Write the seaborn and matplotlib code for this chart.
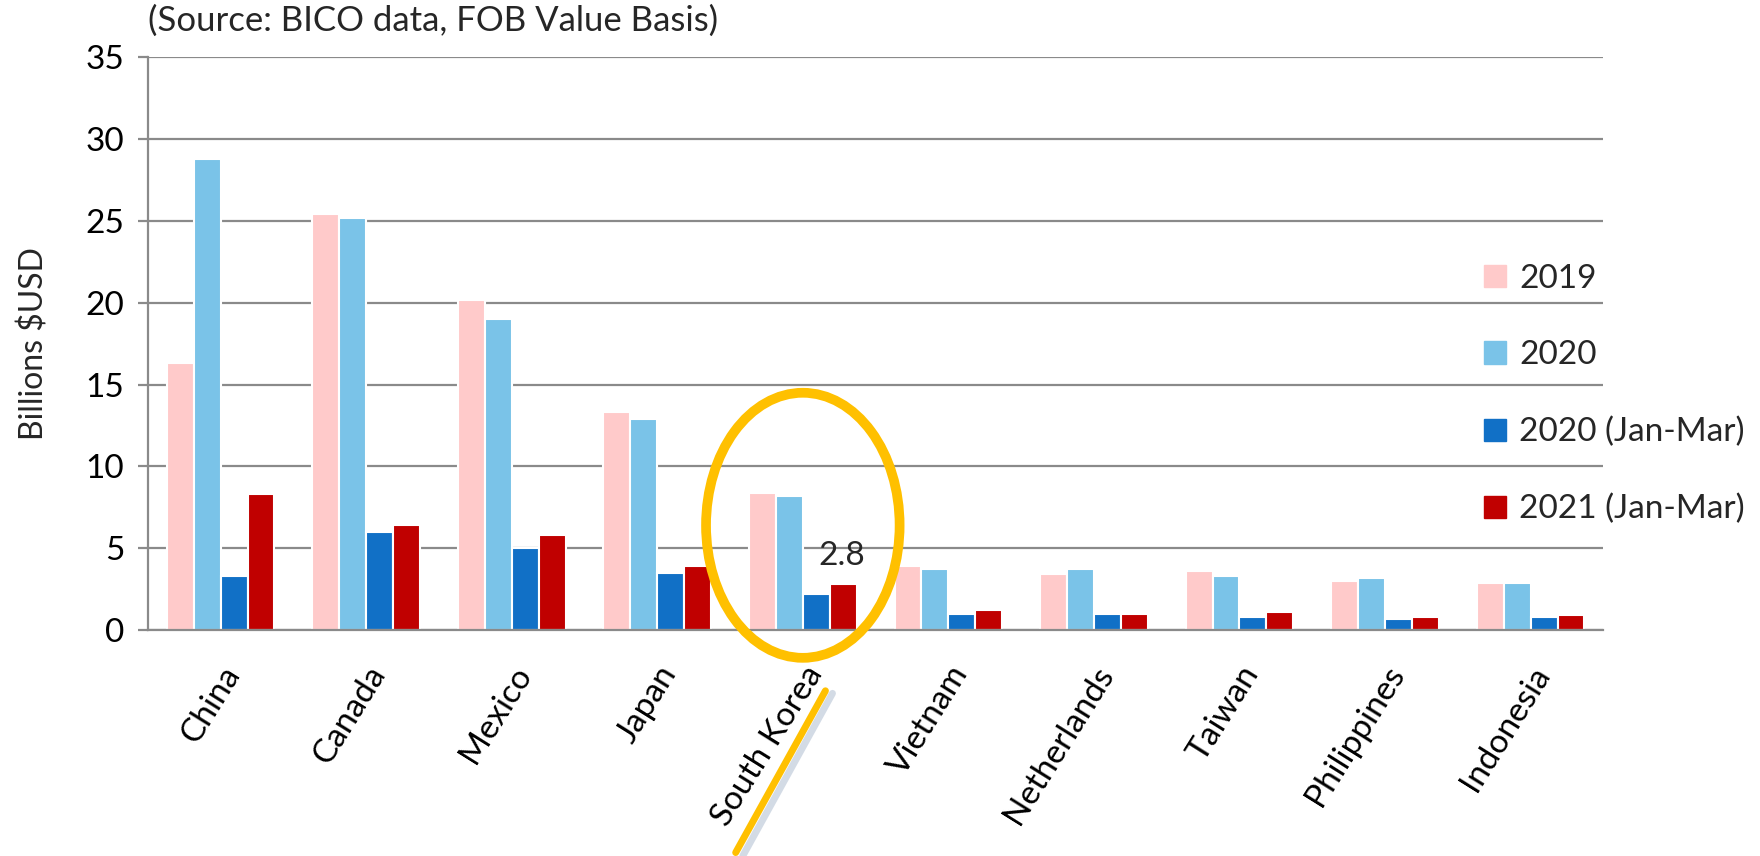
import pandas as pd
import matplotlib.pyplot as plt
import seaborn as sns
from matplotlib.patches import Ellipse
from matplotlib.lines import Line2D

countries = ['China', 'Canada', 'Mexico', 'Japan', 'South Korea', 'Vietnam',
             'Netherlands', 'Taiwan', 'Philippines', 'Indonesia']
series = ['2019', '2020', '2020 (Jan-Mar)', '2021 (Jan-Mar)']
v2019 = [16.3, 25.4, 20.2, 13.3, 8.4, 3.9, 3.4, 3.6, 3.0, 2.9]
v2020 = [28.8, 25.2, 19.0, 12.9, 8.2, 3.7, 3.7, 3.3, 3.2, 2.9]
v2020q1 = [3.3, 6.0, 5.0, 3.5, 2.2, 1.0, 1.0, 0.8, 0.7, 0.8]
v2021q1 = [8.3, 6.4, 5.8, 3.9, 2.8, 1.2, 1.0, 1.1, 0.8, 0.9]
colors = ['#FFCACA', '#7AC3E8', '#1170C6', '#C00000']

df = pd.DataFrame({
    'Country': countries * 4,
    'Series': [s for s in series for _ in countries],
    'Value': v2019 + v2020 + v2020q1 + v2021q1,
})

sns.set_style('white')
plt.rcParams['font.family'] = ['Lato', 'DejaVu Sans']

fig = plt.figure(figsize=(17.6, 8.56), dpi=100)
ax = fig.add_axes([0.084, 0.264, 0.827, 0.669])

sns.barplot(data=df, x='Country', y='Value', hue='Series', palette=colors,
            saturation=1, width=0.74, edgecolor='white', linewidth=1.5, ax=ax,
            legend=False)

ax.set_ylim(0, 35)
ax.set_xlim(-0.5, len(countries) - 0.5)
ax.set_yticks(range(0, 36, 5))
ax.yaxis.grid(True, color='#8A8A8A', linewidth=1.6)
ax.set_axisbelow(True)
for s in ['top', 'right']:
    ax.spines[s].set_visible(False)
for s in ['left', 'bottom']:
    ax.spines[s].set_color('#8A8A8A')
    ax.spines[s].set_linewidth(1.6)
ax.tick_params(axis='y', which='major', length=7, width=1.6, color='#8A8A8A',
               labelsize=24, pad=10, left=True, labelcolor='black')
ax.tick_params(axis='x', length=0, labelsize=24, pad=22, labelcolor='black')
plt.setp(ax.get_xticklabels(), rotation=58, ha='right', rotation_mode='anchor')
ax.set_xlabel('')
ax.set_ylabel('Billions $USD', fontsize=23, labelpad=26)

ax.text(0, 1.035, '(Source: BICO data, FOB Value Basis)', transform=ax.transAxes,
        fontsize=25, ha='left', va='bottom')

# value label on South Korea 2021 bar
ax.text(4.27, 3.6, '2.8', fontsize=24, ha='center', va='bottom')

# highlight ellipse
ax.add_patch(Ellipse((4.0, 6.4), 1.33, 16.2, fill=False, edgecolor='#FFC000',
                     linewidth=7, clip_on=False, zorder=5))
fig.add_artist(Line2D([0.473, 0.422], [0.19, 0.0], color='#A9B8CC', linewidth=5,
                      alpha=0.5, transform=fig.transFigure))
fig.add_artist(Line2D([0.469, 0.418], [0.193, 0.004], color='#FFC000', linewidth=5,
                      transform=fig.transFigure))

handles = [plt.Rectangle((0, 0), 1, 1, color=c) for c in colors]
ax.legend(handles, series, loc='center left', bbox_to_anchor=(0.918, 0.412),
          frameon=False, fontsize=24, handlelength=0.65, handleheight=0.65,
          handletextpad=0.4, labelspacing=1.4, borderaxespad=0, borderpad=0)

fig.savefig('out.png', dpi=100)
